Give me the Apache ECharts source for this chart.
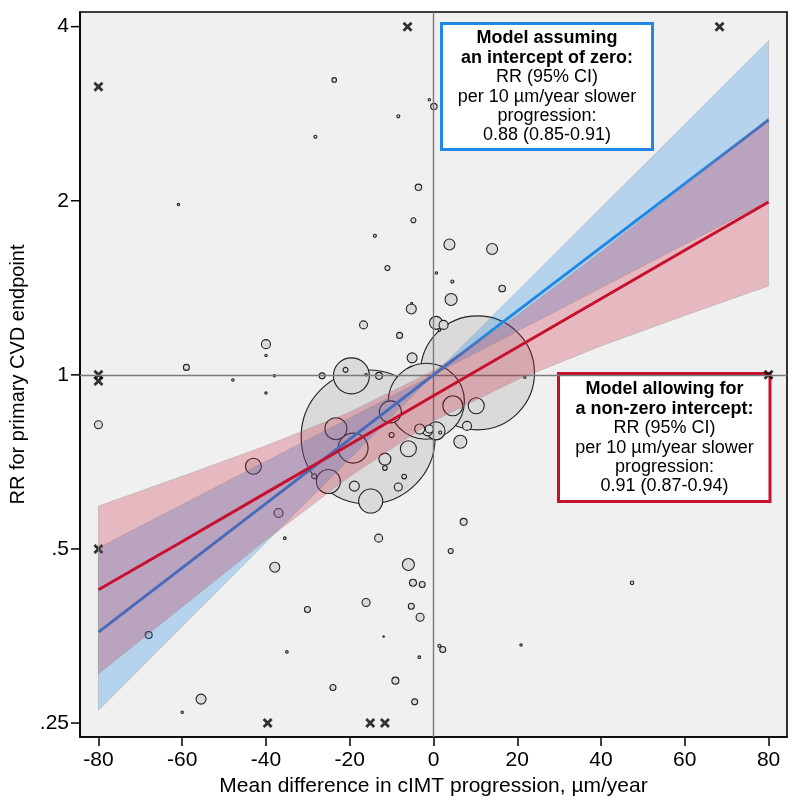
<!DOCTYPE html>
<html><head><meta charset="utf-8">
<script src="https://cdn.jsdelivr.net/npm/echarts@6/dist/echarts.min.js"></script>
<style>html,body{margin:0;padding:0;background:#fff}#c{width:800px;height:812px}</style>
</head><body><div id="c"></div>
<script>
// ---- axis ticks ----
const xTicks = [-80, -60, -40, -20, 0, 20, 40, 60, 80];
const yTicks = [0.25, 0.5, 1, 2, 4];
const xMin = -84.4, xMax = 84.4, yMin = 0.2365, yMax = 4.24;

// ---- studies: mean difference in cIMT progression, RR, relative weight (marker radius) ----
const studyX = [-23.7,-1.0,0.1,-8.4,-28.2,-60.9,-3.6,-4.8,-14.0,-11.0,-5.3,-5.2,-16.7,-8.1,0.6,0.7,-40.0,-40.0,-59.0,-5.1,
  3.8,14.0,4.5,16.4,4.2,2.4,1.4,
  -47.9,-38.0,-40.0,-26.6,-19.6,-21.0,-16.1,-13.0,-80.0,-15.6,-23.3,-19.2,-25.1,-43.0,-28.5,-37.0,-35.5,-37.9,-18.9,-15.0,
  -11.6,-11.6,-8.4,-7.0,-6.0,-10.0,-10.3,-13.1,-6.0,-4.9,-2.7,-16.1,-30.1,-5.3,-3.2,-11.9,-35.0,-3.4,-68.0,-9.1,-24.0,-4.5,-55.5,-60.0,
  21.8,7.2,4.1,47.4,20.9,1.4,2.2,6.4,8.0,10.2,1.6,-1.4,10.5,4.6,-1.7,-3.3,-1.0,0.6];
const studyRR = [3.235,2.99,2.91,2.80,2.58,1.97,2.11,1.85,1.74,1.53,1.30,1.33,1.22,1.17,1.23,1.50,1.13,1.08,1.03,1.07,
  1.68,1.65,1.45,1.41,1.35,1.22,1.195,
  0.98,0.996,0.93,0.996,0.996,1.02,1.0,0.996,0.82,0.781,0.807,0.747,0.654,0.695,0.668,0.577,0.522,0.465,0.642,0.605,
  0.715,0.690,0.640,0.667,0.745,0.787,0.863,0.522,0.470,0.437,0.434,0.404,0.393,0.398,0.381,0.353,0.332,0.325,0.355,0.296,0.288,0.272,0.275,0.261,
  0.99,0.557,0.496,0.437,0.341,0.340,0.335,0.766,0.816,0.884,0.795,0.800,1.008,0.884,0.90,0.806,0.806,0.80];
const studyWeight = [2.3,1.2,3.2,1.5,1.5,1.2,3.2,2.5,1.5,2.5,5,1,4,3,6.5,1.2,4.5,1.2,3,5,
  5.5,5.5,1.5,3.3,6,4.5,1.3,
  1.2,1.2,1.2,3,18,2.5,1.2,3.5,4,67,11,15,12,8,2.5,4.5,1.3,5,5,12,
  6,2.3,4,2.3,8,2.5,11,4,6,3.5,3,4,3,3,4,0.7,1.3,1.3,3.5,3.5,3,3,5,1.2,
  1.2,3.5,2.5,1.8,1.2,1.5,3,6.5,4.5,8,1.5,5,57,10,38,5,4,9];

// ---- studies outside the plotted range (truncated) ----
const truncX  = [-80, -80, -80, -80, -6.2, 68.3, 80, -39.6, -15.1, -11.6];
const truncRR = [3.15, 1.0, 0.976, 0.5, 4, 4, 1.0, 0.25, 0.25, 0.25];

// ---- model assuming an intercept of zero ----
const zeroX   = [-80, 0, 80];
const zeroRR  = [0.359, 1, 2.76];
const zeroLo  = [0.263, 1, 2.0];
const zeroHi  = [0.502, 1, 3.78];

// ---- model allowing for a non-zero intercept ----
const freeX   = [-80, -60, -40, -20, 0, 20, 40, 60, 80];
const freeRR  = [0.425, 0.515, 0.625, 0.758, 0.920, 1.116, 1.354, 1.642, 1.99];
const freeLo  = [0.304, 0.397, 0.518, 0.667, 0.832, 0.981, 1.122, 1.267, 1.425];
const freeHi  = [0.593, 0.668, 0.754, 0.862, 1.016, 1.268, 1.633, 2.129, 2.78];

const FONT = '"Liberation Sans", Arial, sans-serif';
const BLUE = '#1f88e6', RED = '#c8102e';

const bubbles = studyX.map((x, i) => [x, studyRR[i], studyWeight[i]])
  .sort((a, b) => b[2] - a[2]);

function band(xs, lo, hi, fill, z) {
  return {
    type: 'custom', z: z, silent: true, clip: false,
    data: [[xs[0], lo[0]]],
    renderItem: function (params, api) {
      const pts = [];
      for (let i = 0; i < xs.length; i++) pts.push(api.coord([xs[i], hi[i]]));
      for (let i = xs.length - 1; i >= 0; i--) pts.push(api.coord([xs[i], lo[i]]));
      return { type: 'polygon', shape: { points: pts },
        style: { fill: fill, stroke: 'rgba(140,150,140,0.45)', lineWidth: 0.8 } };
    }
  };
}
function pairs(xs, ys) { return xs.map((x, i) => [x, ys[i]]); }

const chart = echarts.init(document.getElementById('c'), null, { renderer: 'canvas' });
chart.setOption({
  animation: false,
  backgroundColor: '#ffffff',
  textStyle: { fontFamily: FONT },
  grid: { left: 80, right: 13, top: 12, bottom: 75, show: true, backgroundColor: '#f0f0f0',
          borderColor: '#000', borderWidth: 1.6, containLabel: false, outerBoundsMode: 'none' },
  xAxis: {
    type: 'value', min: xMin, max: xMax, position: 'bottom',
    axisLine: { show: true, onZero: false, lineStyle: { color: '#000', width: 1.6 } },
    splitLine: { show: false },
    axisTick: { show: true, inside: false, customValues: xTicks, length: 9, lineStyle: { color: '#000', width: 1.5 } },
    axisLabel: { customValues: xTicks, fontSize: 21, color: '#000', margin: 13, fontFamily: FONT },
    name: 'Mean difference in cIMT progression, µm/year',
    nameLocation: 'middle', nameGap: 38,
    nameTextStyle: { fontSize: 21, color: '#000', fontFamily: FONT }
  },
  yAxis: {
    type: 'log', logBase: 2, min: yMin, max: yMax, position: 'left',
    axisLine: { show: true, onZero: false, lineStyle: { color: '#000', width: 1.6 } },
    splitLine: { show: false },
    axisTick: { show: false },
    axisLabel: { customValues: yTicks, fontSize: 21, color: '#000', margin: 11, fontFamily: FONT,
      formatter: function (v) { const r = Math.round(v * 100) / 100; return r >= 1 ? String(r) : String(r).replace(/^0/, ''); } },
    name: 'RR for primary CVD endpoint',
    nameLocation: 'middle', nameGap: 44,
    nameTextStyle: { fontSize: 20, color: '#000', fontFamily: FONT }
  },
  series: [
    { type: 'scatter', z: 2, silent: true, data: bubbles,
      symbol: 'circle', symbolSize: function (v) { return v[2] * 2; },
      itemStyle: { color: '#dadada', borderColor: '#222', borderWidth: 1.1, opacity: 1 } },
    { type: 'scatter', z: 3, silent: true, data: pairs(truncX, truncRR),
      symbol: 'path://M0,0L10,10M10,0L0,10', symbolSize: 8,
      itemStyle: { color: 'none', borderColor: '#000', borderWidth: 2.8 } },
    { type: 'line', z: 4, silent: true, data: [],
      markLine: { silent: true, symbol: ['none', 'none'], label: { show: false },
        lineStyle: { color: '#7a7a7a', width: 1.4, type: 'solid' },
        data: [{ xAxis: 0 }, { yAxis: 1 }] } },
    band(zeroX, zeroLo, zeroHi, 'rgba(31,136,230,0.28)', 5),
    { type: 'line', z: 6, silent: true, data: pairs(zeroX, zeroRR), symbol: 'none',
      lineStyle: { color: BLUE, width: 3 } },
    band(freeX, freeLo, freeHi, 'rgba(200,12,46,0.24)', 7),
    { type: 'line', z: 8, silent: true, data: pairs(freeX, freeRR), symbol: 'none',
      lineStyle: { color: RED, width: 3 } },
    // y-axis tick marks, placed through the axis scale
    { type: 'custom', z: 20, silent: true, clip: false,
      data: yTicks.map(v => [xMin, v]),
      renderItem: function (params, api) {
        const p = api.coord([xMin, yTicks[params.dataIndex]]);
        return { type: 'rect', shape: { x: p[0] - 9, y: p[1] - 0.75, width: 9, height: 1.5 },
          style: { fill: '#000' } };
      } }
  ],
  graphic: [
    { type: 'group', z: 100, children: [
      { type: 'rect', shape: { x: 441.5, y: 23.5, width: 211, height: 126 },
        style: { fill: '#fff', stroke: BLUE, lineWidth: 3 } },
      { type: 'text', x: 547, y: 87,
        style: { text: '{b|Model assuming}\n{b|an intercept of zero:}\n{n|RR (95% CI)}\n{n|per 10 µm/year slower}\n{n|progression:}\n{n|0.88 (0.85-0.91)}',
          align: 'center', verticalAlign: 'middle', fill: '#000', fontFamily: FONT,
          rich: { b: { fontWeight: 'bold', fontSize: 18, lineHeight: 19.4, fontFamily: FONT, fill: '#000' },
                  n: { fontSize: 18, lineHeight: 19.4, fontFamily: FONT, fill: '#000' } } } }
    ]},
    { type: 'group', z: 100, children: [
      { type: 'rect', shape: { x: 558.5, y: 373.5, width: 211.5, height: 128 },
        style: { fill: '#fff', stroke: RED, lineWidth: 3 } },
      { type: 'text', x: 664.5, y: 438,
        style: { text: '{b|Model allowing for}\n{b|a non-zero intercept:}\n{n|RR (95% CI)}\n{n|per 10 µm/year slower}\n{n|progression:}\n{n|0.91 (0.87-0.94)}',
          align: 'center', verticalAlign: 'middle', fill: '#000', fontFamily: FONT,
          rich: { b: { fontWeight: 'bold', fontSize: 18, lineHeight: 19.4, fontFamily: FONT, fill: '#000' },
                  n: { fontSize: 18, lineHeight: 19.4, fontFamily: FONT, fill: '#000' } } } }
    ]}
  ]
});
</script></body></html>
